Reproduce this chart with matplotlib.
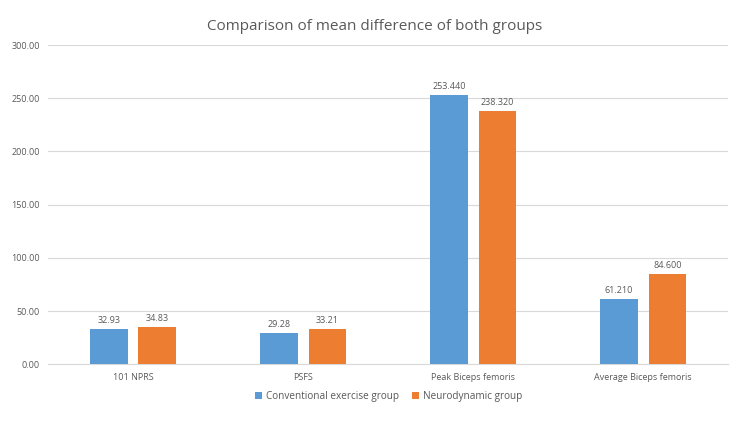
import matplotlib
matplotlib.use("Agg")
import matplotlib.pyplot as plt
import numpy as np

categories = ["101 NPRS", "PSFS", "Peak Biceps femoris", "Average Biceps femoris"]
conventional = [32.93, 29.28, 253.44, 61.21]
neurodynamic = [34.83, 33.21, 238.32, 84.60]
conventional_labels = ["32.93", "29.28", "253.440", "61.210"]
neurodynamic_labels = ["34.83", "33.21", "238.320", "84.600"]
yticks = [0, 50, 100, 150, 200, 250, 300]

BLUE = "#5B9BD5"
ORANGE = "#ED7D31"
GREY = "#595959"

plt.rcParams["font.family"] = ["Open Sans", "DejaVu Sans"]

fig = plt.figure(figsize=(7.5, 4.22), dpi=100)
ax = fig.add_axes([0.064, 0.137, 0.907, 0.756])

x = np.arange(len(categories))
w = 0.22
off = 0.142
b1 = ax.bar(x - off, conventional, w, color=BLUE, label="Conventional exercise group", zorder=3)
b2 = ax.bar(x + off, neurodynamic, w, color=ORANGE, label="Neurodynamic group", zorder=3)

for bars, labels in ((b1, conventional_labels), (b2, neurodynamic_labels)):
    for rect, lab in zip(bars, labels):
        ax.annotate(lab, (rect.get_x() + rect.get_width() / 2, rect.get_height()),
                    xytext=(0, 3), textcoords="offset points", ha="center", va="bottom",
                    fontsize=6.5, color=GREY)

ax.set_xlim(-0.5, len(categories) - 0.5)
ax.set_ylim(0, 300)
ax.set_yticks(yticks)
ax.set_yticklabels([f"{v:.2f}" for v in yticks])
ax.set_xticks(x)
ax.set_xticklabels(categories)
ax.tick_params(axis="both", length=0, labelsize=6.5, labelcolor=GREY, pad=6)
ax.grid(axis="y", color="#D9D9D9", linewidth=0.8, zorder=0)
for s in ("top", "right", "left"):
    ax.spines[s].set_visible(False)
ax.spines["bottom"].set_color("#D9D9D9")
ax.spines["bottom"].set_linewidth(0.8)

fig.suptitle("Comparison of mean difference of both groups", y=0.955, fontsize=11, color=GREY)
ax.legend(loc="upper center", bbox_to_anchor=(0.5, -0.055), ncol=2, frameon=False,
          fontsize=7.2, labelcolor=GREY, handlelength=0.7, handleheight=0.7,
          handletextpad=0.4, columnspacing=1.3)

fig.savefig("out.png", dpi=100)
